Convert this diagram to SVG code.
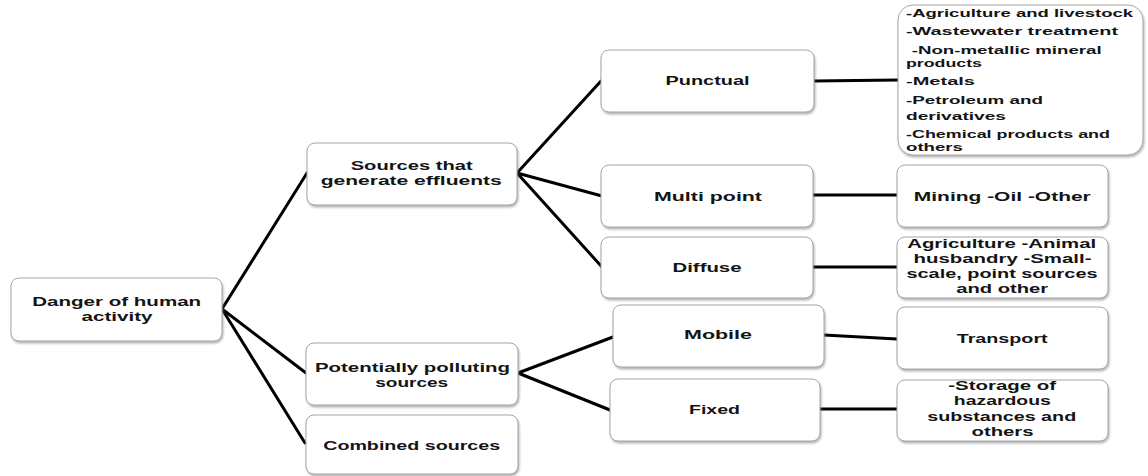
<svg xmlns="http://www.w3.org/2000/svg" width="1148" height="476" viewBox="0 0 1148 476">
<defs>
<filter id="sh" x="-10%" y="-10%" width="120%" height="130%">
<feDropShadow dx="1" dy="2" stdDeviation="1.2" flood-color="#777" flood-opacity="0.55"/>
</filter>
</defs>
<style>
.box{fill:#fff;stroke:#a6a6a6;stroke-width:1;filter:url(#sh)}
.t{font-family:"Liberation Sans",Arial,sans-serif;font-weight:bold;fill:#141414;text-anchor:middle}
.l{text-anchor:start}
.f14{font-size:13.2px}
.f12{font-size:12px}
.f11{font-size:11px}
.c{stroke:#000;stroke-width:3;fill:none;stroke-linecap:round}
</style>
<rect width="1148" height="476" fill="#fff"/>
<g id="connectors">
<line class="c" x1="222" y1="309" x2="307" y2="173"/>
<line class="c" x1="222" y1="309" x2="306" y2="373"/>
<line class="c" x1="222" y1="309" x2="305" y2="443"/>
<line class="c" x1="517" y1="173" x2="601" y2="81"/>
<line class="c" x1="517" y1="173" x2="602" y2="196"/>
<line class="c" x1="517" y1="173" x2="602" y2="267"/>
<line class="c" x1="814" y1="81" x2="898" y2="80"/>
<line class="c" x1="813" y1="195" x2="897" y2="195"/>
<line class="c" x1="813" y1="267" x2="897" y2="267"/>
<line class="c" x1="518" y1="373" x2="613" y2="337"/>
<line class="c" x1="518" y1="373" x2="610" y2="410"/>
<line class="c" x1="824" y1="335" x2="897" y2="339"/>
<line class="c" x1="820" y1="409" x2="897" y2="409"/>
</g>
<g id="danger">
<rect class="box" x="11" y="278" width="211" height="63" rx="8"/>
<text class="t f14" x="116.7" y="306" textLength="169" lengthAdjust="spacingAndGlyphs">Danger of human</text>
<text class="t f14" x="117" y="321" textLength="71" lengthAdjust="spacingAndGlyphs">activity</text>
</g>
<g id="sources">
<rect class="box" x="307" y="143" width="210" height="62" rx="8"/>
<text class="t f14" x="411.7" y="170" textLength="122" lengthAdjust="spacingAndGlyphs">Sources that</text>
<text class="t f14" x="411.2" y="185" textLength="181" lengthAdjust="spacingAndGlyphs">generate effluents</text>
</g>
<g id="potentially">
<rect class="box" x="306" y="343" width="212" height="62" rx="8"/>
<text class="t f14" x="412.5" y="371.5" textLength="195" lengthAdjust="spacingAndGlyphs">Potentially polluting</text>
<text class="t f14" x="411.7" y="386.5" textLength="73" lengthAdjust="spacingAndGlyphs">sources</text>
</g>
<g id="combined">
<rect class="box" x="306" y="415" width="212" height="59" rx="8"/>
<text class="t f14" x="411.7" y="449.5" textLength="177" lengthAdjust="spacingAndGlyphs">Combined sources</text>
</g>
<g id="punctual">
<rect class="box" x="601" y="50" width="213" height="62" rx="8"/>
<text class="t f14" x="707.5" y="85" textLength="84" lengthAdjust="spacingAndGlyphs">Punctual</text>
</g>
<g id="multipoint">
<rect class="box" x="601" y="165" width="212" height="62" rx="8"/>
<text class="t f14" x="708" y="201" textLength="108" lengthAdjust="spacingAndGlyphs">Multi point</text>
</g>
<g id="diffuse">
<rect class="box" x="601" y="237" width="212" height="61" rx="8"/>
<text class="t f14" x="707" y="272" textLength="69" lengthAdjust="spacingAndGlyphs">Diffuse</text>
</g>
<g id="mobile">
<rect class="box" x="613" y="305" width="211" height="62" rx="8"/>
<text class="t f14" x="718" y="339" textLength="68" lengthAdjust="spacingAndGlyphs">Mobile</text>
</g>
<g id="fixed">
<rect class="box" x="610" y="379" width="210" height="62" rx="8"/>
<text class="t f14" x="714.5" y="414" textLength="51" lengthAdjust="spacingAndGlyphs">Fixed</text>
</g>
<g id="punctual-list">
<rect class="box" x="898" y="5" width="245" height="150" rx="15"/>
<text class="t l f11" x="906" y="17" textLength="227" lengthAdjust="spacingAndGlyphs">-Agriculture and livestock</text>
<text class="t l f11" x="906" y="35" textLength="212" lengthAdjust="spacingAndGlyphs">-Wastewater treatment</text>
<text class="t l f11" x="911.7" y="53.5" textLength="190" lengthAdjust="spacingAndGlyphs">-Non-metallic mineral</text>
<text class="t l f11" x="906" y="66.5" textLength="76" lengthAdjust="spacingAndGlyphs">products</text>
<text class="t l f11" x="906" y="85" textLength="69" lengthAdjust="spacingAndGlyphs">-Metals</text>
<text class="t l f11" x="906" y="103.5" textLength="137" lengthAdjust="spacingAndGlyphs">-Petroleum and</text>
<text class="t l f11" x="906" y="119.5" textLength="100" lengthAdjust="spacingAndGlyphs">derivatives</text>
<text class="t l f11" x="906" y="138" textLength="204" lengthAdjust="spacingAndGlyphs">-Chemical products and</text>
<text class="t l f11" x="906" y="151" textLength="57" lengthAdjust="spacingAndGlyphs">others</text>
</g>
<g id="mining">
<rect class="box" x="897" y="165" width="211" height="62" rx="8"/>
<text class="t f14" x="1002.3" y="201" textLength="177" lengthAdjust="spacingAndGlyphs">Mining -Oil -Other</text>
</g>
<g id="agriculture">
<rect class="box" x="897" y="237" width="211" height="61" rx="8"/>
<text class="t f12" x="1001.7" y="248" textLength="189" lengthAdjust="spacingAndGlyphs">Agriculture -Animal</text>
<text class="t f12" x="1002.5" y="263" textLength="178" lengthAdjust="spacingAndGlyphs">husbandry -Small-</text>
<text class="t f12" x="1002" y="278" textLength="191" lengthAdjust="spacingAndGlyphs">scale, point sources</text>
<text class="t f12" x="1002.2" y="293" textLength="92" lengthAdjust="spacingAndGlyphs">and other</text>
</g>
<g id="transport">
<rect class="box" x="897" y="307" width="211" height="62" rx="8"/>
<text class="t f14" x="1002.2" y="343" textLength="91" lengthAdjust="spacingAndGlyphs">Transport</text>
</g>
<g id="storage">
<rect class="box" x="897" y="380" width="211" height="61" rx="8"/>
<text class="t f12" x="1002.2" y="390" textLength="108" lengthAdjust="spacingAndGlyphs">-Storage of</text>
<text class="t f12" x="1002.3" y="405" textLength="97" lengthAdjust="spacingAndGlyphs">hazardous</text>
<text class="t f12" x="1001.7" y="420.5" textLength="149" lengthAdjust="spacingAndGlyphs">substances and</text>
<text class="t f12" x="1002.5" y="435.5" textLength="62" lengthAdjust="spacingAndGlyphs">others</text>
</g>
</svg>
